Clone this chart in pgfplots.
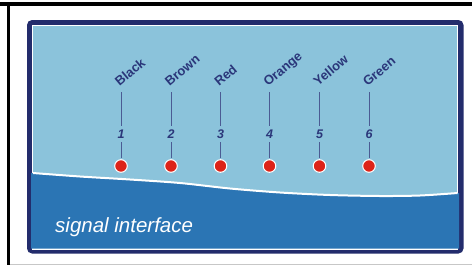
\documentclass[border=0pt]{standalone}
\usepackage{pgfplots}
\pgfplotsset{compat=1.18}
\usepackage{fontspec}
\setmainfont{Liberation Sans}
\definecolor{lightblue}{HTML}{8BC3DB}
\definecolor{darkblue}{HTML}{2B75B4}
\definecolor{navy}{HTML}{232C6C}
\definecolor{dotred}{HTML}{DD2318}
\definecolor{txtnavy}{HTML}{2B377A}
\definecolor{linenavy}{HTML}{4B5B93}
\begin{document}
\begin{tikzpicture}
\begin{axis}[
  width=472pt, height=266pt, scale only axis,
  xmin=0, xmax=472, ymin=0, ymax=266, y dir=reverse,
  enlargelimits=false, hide axis, clip=true,
]
% page background
\fill[white] (axis cs:0,0) rectangle (axis cs:472,266);
% outer frame
\fill[black] (axis cs:0,2) rectangle (axis cs:472,5.5);
\fill[black] (axis cs:7,2) rectangle (axis cs:10,264.5);
\fill[black!22] (axis cs:10,263.5) rectangle (axis cs:472,264.7);
% navy panel
\fill[navy, rounded corners=5pt] (axis cs:27,20) rectangle (axis cs:463.5,253.5);
\fill[lightblue, draw=white, line width=1.2pt] (axis cs:32.5,25.5) rectangle (axis cs:457.5,249);
% lower area
\addplot[fill=darkblue, draw=none] coordinates {
 (31,173) (80,176.5) (130,179.5) (180,183) (230,188.5) (280,192.5) (330,195) (380,196) (420,195.5) (459,193)
 (459,248.5) (31,248.5)} -- cycle;
\addplot[white, line width=2pt, smooth] coordinates {
 (33,173) (80,176.5) (130,179.5) (180,183) (230,188.5) (280,192.5) (330,195) (380,196) (420,195.5) (457.5,193)};
% connector lines
\pgfplotsinvokeforeach{121,171,220.5,269.5,319.5,369}{
  \addplot[linenavy, line width=0.9pt] coordinates {(#1,92) (#1,126)};
  \addplot[linenavy, line width=0.9pt] coordinates {(#1,142) (#1,158)};
}
% contact dots
\addplot[only marks, mark=*, mark size=6.3pt, mark options={fill=dotred, draw=white, line width=1pt}]
 coordinates {(121,166) (171,166) (220.5,166) (269.5,166) (319.5,166) (369,166)};
% labels
\begin{scope}[every node/.style={text=txtnavy, inner sep=0pt, font=\fontsize{13}{15}\selectfont\bfseries}]
\node[rotate=40, anchor=base west] at (axis cs:119.5,87) {Black};
\node[rotate=40, anchor=base west] at (axis cs:169.5,87) {Brown};
\node[rotate=40, anchor=base west] at (axis cs:219,87) {Red};
\node[rotate=40, anchor=base west] at (axis cs:268,87) {Orange};
\node[rotate=40, anchor=base west] at (axis cs:318,87) {Yellow};
\node[rotate=40, anchor=base west] at (axis cs:367.5,87) {Green};
\end{scope}
\begin{scope}[every node/.style={text=txtnavy, inner sep=0pt, font=\fontsize{12.5}{14}\selectfont\bfseries\itshape}]
\node at (axis cs:121,134) {1};
\node at (axis cs:171,134) {2};
\node at (axis cs:220.5,134) {3};
\node at (axis cs:269.5,134) {4};
\node at (axis cs:319.5,134) {5};
\node at (axis cs:369,134) {6};
\end{scope}
\node[text=white, inner sep=0pt, anchor=base west, font=\fontsize{20.5}{22}\selectfont\itshape] at (axis cs:55,232) {signal interface};
\end{axis}
\end{tikzpicture}
\end{document}
